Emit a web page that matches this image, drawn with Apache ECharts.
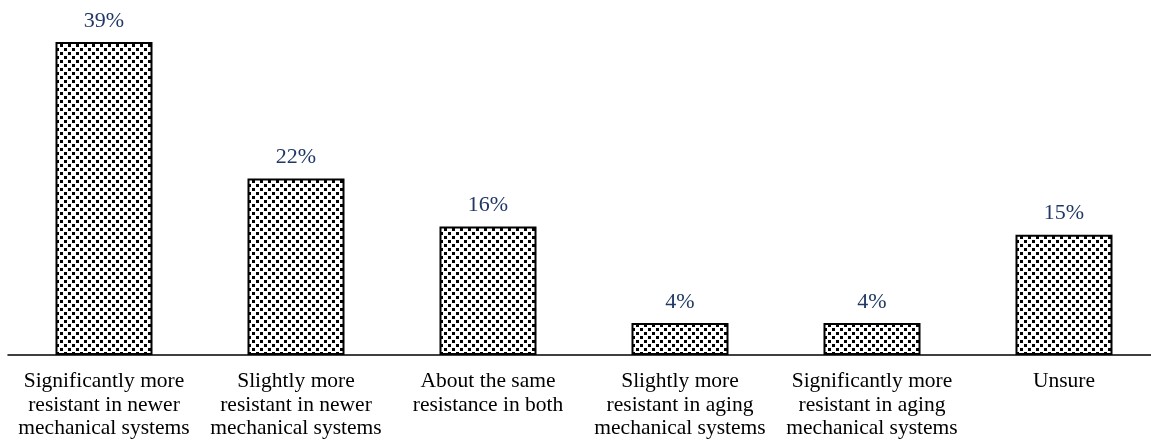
<!DOCTYPE html>
<html><head><meta charset="utf-8">
<script src="https://cdn.jsdelivr.net/npm/echarts@6/dist/echarts.min.js"></script>
<style>html,body{margin:0;padding:0;background:#fff}#c{width:1151px;height:442px}</style>
</head><body><div id="c"></div>
<script>
const categories = [
  "Significantly more\nresistant in newer\nmechanical systems",
  "Slightly more\nresistant in newer\nmechanical systems",
  "About the same\nresistance in both",
  "Slightly more\nresistant in aging\nmechanical systems",
  "Significantly more\nresistant in aging\nmechanical systems",
  "Unsure"
];
const values = [39, 22, 16, 4, 4, 15];

const tile = document.createElement('canvas');
tile.width = 8; tile.height = 8;
const ctx = tile.getContext('2d');
ctx.fillStyle = '#fff'; ctx.fillRect(0, 0, 8, 8);
ctx.fillStyle = '#000';
ctx.fillRect(0, 0, 3, 3);
ctx.fillRect(4, 4, 3, 3);

const chart = echarts.init(document.getElementById('c'), null, {renderer: 'canvas'});
chart.setOption({
  animation: false,
  grid: {left: 8, width: 1152, top: 34, bottom: 87, containLabel: false, outerBoundsMode: 'none'},
  xAxis: {
    type: 'category', data: categories,
    axisLine: {lineStyle: {color: '#000', width: 1.5}},
    axisTick: {show: false},
    axisLabel: {interval: 0, color: '#000', fontFamily: 'Liberation Serif', fontSize: 21.5, lineHeight: 23.5, margin: 15}
  },
  yAxis: {type: 'value', min: 0, max: 40, show: false, splitLine: {show: false}},
  series: [{
    type: 'bar', data: values, barWidth: 97,
    itemStyle: {color: {image: tile, repeat: 'repeat'}, borderColor: '#000', borderWidth: 2},
    label: {show: true, position: 'top', distance: 10, formatter: '{c}%', color: '#203864', fontFamily: 'Liberation Serif', fontSize: 22}
  }]
});
</script></body></html>
